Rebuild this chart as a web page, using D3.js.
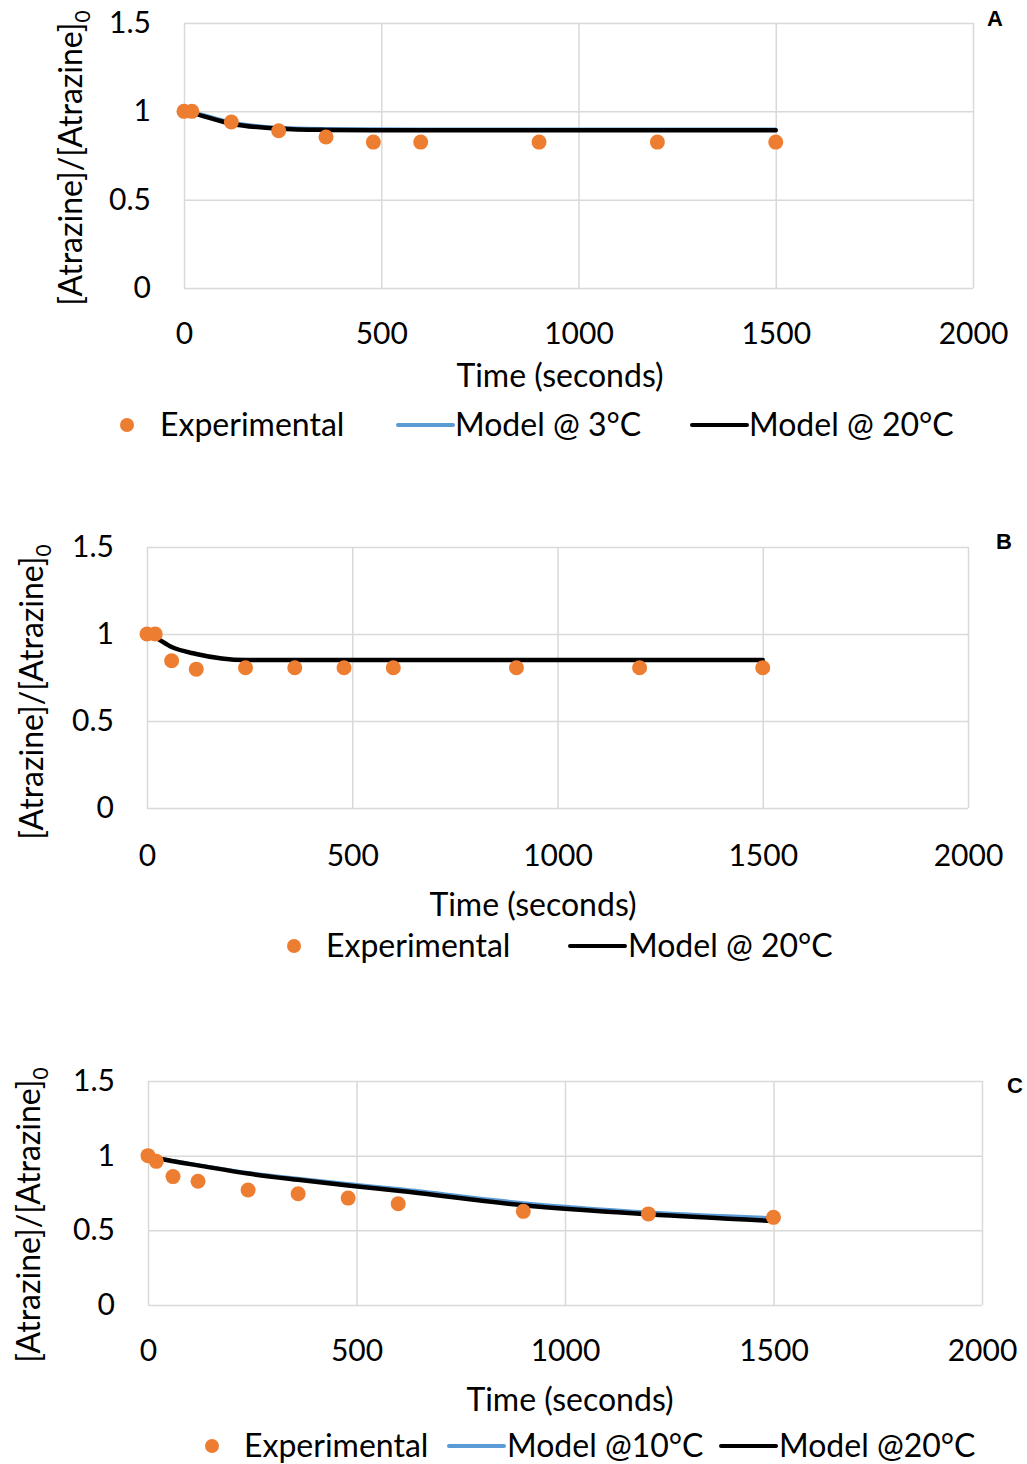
<!DOCTYPE html>
<html>
<head>
<meta charset="utf-8">
<script src="https://cdn.jsdelivr.net/npm/d3@7"></script>
<style>
  body { margin: 0; background: #fff; }
  svg { display: block; }
  text { font-family: Lato, "Open Sans", sans-serif; fill: #000; }
</style>
</head>
<body>
<svg id="chart" width="1027" height="1464"></svg>
<script>
// ---------- DATA ----------
const xTicks = [0, 500, 1000, 1500, 2000];
const yTicks = [0, 0.5, 1, 1.5];

const timeA = [0, 20, 120, 240, 360, 480, 600, 900, 1200, 1500];
const expA = [1, 1, 0.94, 0.89, 0.855, 0.826, 0.826, 0.826, 0.826, 0.826];
const model3A = [1, 0.995, 0.94, 0.91, 0.903, 0.901, 0.9, 0.9, 0.9, 0.9];
const model20A = [1, 0.99, 0.93, 0.902, 0.895, 0.893, 0.893, 0.893, 0.893, 0.893];

const timeB = [0, 20, 60, 120, 240, 360, 480, 600, 900, 1200, 1500];
const expB = [1, 1, 0.846, 0.798, 0.806, 0.806, 0.806, 0.806, 0.806, 0.806, 0.806];
const model20B = [1, 0.98, 0.925, 0.885, 0.85, 0.85, 0.85, 0.85, 0.85, 0.85, 0.85];

const timeC = [0, 20, 60, 120, 240, 360, 480, 600, 900, 1200, 1500];
const expC = [1, 0.962, 0.86, 0.829, 0.77, 0.745, 0.716, 0.678, 0.627, 0.61, 0.587];
const model10C = [1, 0.988, 0.968, 0.94, 0.888, 0.848, 0.813, 0.78, 0.685, 0.623, 0.585];
const model20C = [1, 0.985, 0.963, 0.935, 0.88, 0.838, 0.80, 0.765, 0.668, 0.607, 0.562];

const seriesNamesA = ["Experimental", "Model @ 3°C", "Model @ 20°C"];
const seriesNamesB = ["Experimental", "Model @ 20°C"];
const seriesNamesC = ["Experimental", "Model @10°C", "Model @20°C"];
const panelLabels = ["A", "B", "C"];

// ---------- STYLE ----------
const ORANGE = "#ED7D31", BLUE = "#5B9BD5", BLACK = "#000000", GRID = "#d9d9d9";
const TICK_FS = 30, TEXT_FS = 32;
const svg = d3.select("#chart");

function drawPanel(cfg) {
  const x = d3.scaleLinear().domain([0, 2000]).range([cfg.x0, cfg.x1]);
  const y = d3.scaleLinear().domain([0, 1.5]).range([cfg.yBot, cfg.yTop]);
  const g = svg.append("g");

  // grid (vertical)
  g.append("g")
    .attr("transform", `translate(0,${cfg.yBot})`)
    .call(d3.axisBottom(x).tickValues(xTicks).tickSize(-(cfg.yBot - cfg.yTop)).tickFormat(""))
    .call(s => s.select(".domain").remove())
    .call(s => s.selectAll("line").attr("stroke", GRID).attr("stroke-width", 1.5));
  // grid (horizontal)
  g.append("g")
    .attr("transform", `translate(${cfg.x0},0)`)
    .call(d3.axisLeft(y).tickValues(yTicks).tickSize(-(cfg.x1 - cfg.x0)).tickFormat(""))
    .call(s => s.select(".domain").remove())
    .call(s => s.selectAll("line").attr("stroke", GRID).attr("stroke-width", 1.5));

  // tick labels x
  g.append("g")
    .attr("transform", `translate(0,${cfg.xLabY})`)
    .call(d3.axisBottom(x).tickValues(xTicks).tickSize(0).tickPadding(0).tickFormat(d3.format("d")))
    .call(s => s.select(".domain").remove())
    .call(s => s.selectAll("text").attr("font-size", TICK_FS).attr("dy", "0.35em").attr("y", 0)
      .style("font-family", "Lato, sans-serif"));
  // tick labels y
  g.append("g")
    .attr("transform", `translate(${cfg.yLabX},0)`)
    .call(d3.axisLeft(y).tickValues(yTicks).tickSize(0).tickPadding(0).tickFormat(d => d3.format("")(d)))
    .call(s => s.select(".domain").remove())
    .call(s => s.selectAll("text").attr("font-size", TICK_FS).attr("x", 0)
      .style("font-family", "Lato, sans-serif"));

  // axis titles
  g.append("text").attr("x", cfg.xTitleX).attr("y", cfg.xTitleY).attr("dy", "0.35em")
    .attr("text-anchor", "middle").attr("font-size", TEXT_FS).text("Time (seconds)");
  const yt = g.append("text")
    .attr("transform", `translate(${cfg.yTitleX},${cfg.yTitleY}) rotate(-90)`)
    .attr("text-anchor", "middle").attr("font-size", TEXT_FS);
  yt.append("tspan").text("[Atrazine]/[Atrazine]");
  yt.append("tspan").attr("font-size", 21).attr("dy", 8).text("0");

  // model lines
  const line = d3.line().x(d => x(d[0])).y(d => y(d[1])).curve(d3.curveMonotoneX);
  cfg.models.forEach(m => {
    g.append("path").datum(cfg.time.map((t, i) => [t, m.values[i]]))
      .attr("d", line).attr("fill", "none").attr("stroke", m.color)
      .attr("stroke-width", m.width).attr("stroke-linejoin", "round").attr("stroke-linecap", "round");
  });

  // experimental points
  g.append("g").selectAll("circle").data(cfg.time.map((t, i) => [t, cfg.exp[i]]))
    .join("circle").attr("cx", d => x(d[0])).attr("cy", d => y(d[1])).attr("r", 7.5)
    .attr("fill", ORANGE);

  // legend
  const lg = g.append("g");
  cfg.legend.forEach(item => {
    if (item.type === "dot") {
      lg.append("circle").attr("cx", item.mx).attr("cy", cfg.legY).attr("r", 7).attr("fill", ORANGE);
    } else {
      lg.append("line").attr("x1", item.mx).attr("x2", item.mx + 55)
        .attr("y1", cfg.legY).attr("y2", cfg.legY)
        .attr("stroke", item.color).attr("stroke-width", 4).attr("stroke-linecap", "round");
    }
    lg.append("text").attr("x", item.tx).attr("y", cfg.legY).attr("dy", "0.35em")
      .attr("font-size", TEXT_FS).text(item.name);
  });

  // panel label
  g.append("text").attr("x", cfg.labX).attr("y", cfg.labY).attr("dy", "0.35em")
    .attr("text-anchor", "middle").attr("font-size", 22).attr("font-weight", "bold")
    .style("font-family", "Liberation Sans, Arial, sans-serif").text(cfg.label);
}

drawPanel({
  x0: 184, x1: 973, yTop: 23, yBot: 288,
  xLabY: 333, yLabX: 151, xTitleX: 560, xTitleY: 376, yTitleX: 82, yTitleY: 158,
  time: timeA, exp: expA,
  models: [{ values: model3A, color: BLUE, width: 3 }, { values: model20A, color: BLACK, width: 4.5 }],
  legY: 425,
  legend: [
    { type: "dot", mx: 127, tx: 160, name: seriesNamesA[0] },
    { type: "line", mx: 398, tx: 455, color: BLUE, name: seriesNamesA[1] },
    { type: "line", mx: 692, tx: 749, color: BLACK, name: seriesNamesA[2] }
  ],
  label: panelLabels[0], labX: 995, labY: 18
});

drawPanel({
  x0: 147, x1: 968, yTop: 547, yBot: 808,
  xLabY: 855, yLabX: 114, xTitleX: 533, xTitleY: 905, yTitleX: 43, yTitleY: 692,
  time: timeB, exp: expB,
  models: [{ values: model20B, color: BLACK, width: 4.5 }],
  legY: 946,
  legend: [
    { type: "dot", mx: 294, tx: 326, name: seriesNamesB[0] },
    { type: "line", mx: 570, tx: 628, color: BLACK, name: seriesNamesB[1] }
  ],
  label: panelLabels[1], labX: 1004, labY: 541
});

drawPanel({
  x0: 148, x1: 982, yTop: 1081, yBot: 1305,
  xLabY: 1350, yLabX: 115, xTitleX: 570, xTitleY: 1400, yTitleX: 40, yTitleY: 1215,
  time: timeC, exp: expC,
  models: [{ values: model10C, color: BLUE, width: 3 }, { values: model20C, color: BLACK, width: 4.5 }],
  legY: 1446,
  legend: [
    { type: "dot", mx: 212, tx: 244, name: seriesNamesC[0] },
    { type: "line", mx: 449, tx: 507, color: BLUE, name: seriesNamesC[1] },
    { type: "line", mx: 721, tx: 779, color: BLACK, name: seriesNamesC[2] }
  ],
  label: panelLabels[2], labX: 1015, labY: 1085
});
</script>
</body>
</html>
